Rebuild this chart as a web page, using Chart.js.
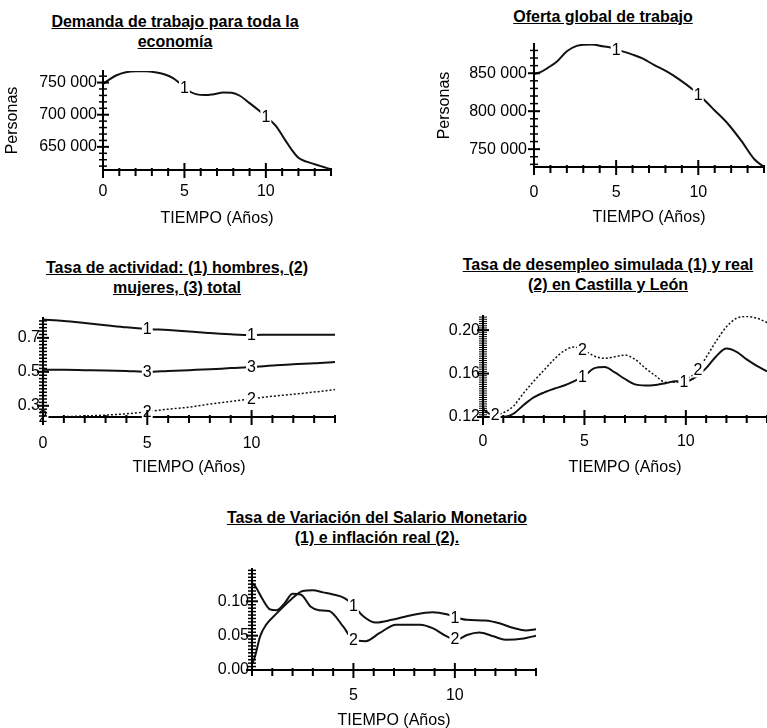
<!DOCTYPE html>
<html>
<head>
<meta charset="utf-8">
<script src="https://cdn.jsdelivr.net/npm/chart.js@4.4.1/dist/chart.umd.min.js"></script>
<style>
  html, body { margin: 0; padding: 0; background: #fff; }
  body { width: 767px; height: 728px; position: relative; overflow: hidden; font-family: "Liberation Sans", Arial, sans-serif; }
  canvas { position: absolute; }
  .title { position: absolute; width: 420px; text-align: center; font-weight: bold; font-size: 16px; line-height: 20px; text-decoration: underline; color: #000; }
</style>
</head>
<body>
<div class="title" style="left:-35px; top:12px">Demanda de trabajo para toda la<br>economía</div>
<div class="title" style="left:393px; top:7px">Oferta global de trabajo</div>
<div class="title" style="left:-33px; top:258px">Tasa de actividad: (1) hombres, (2)<br>mujeres, (3) total</div>
<div class="title" style="left:398px; top:255px">Tasa de desempleo simulada (1) y real<br>(2) en Castilla y León</div>
<div class="title" style="left:167px; top:508px">Tasa de Variación del Salario Monetario<br>(1) e inflación real (2).</div>

<canvas id="demanda" width="345" height="181" style="left:0px; top:51px"></canvas>
<canvas id="oferta" width="344" height="207" style="left:432px; top:24px"></canvas>
<canvas id="actividad" width="350" height="183" style="left:0px; top:298px"></canvas>
<canvas id="desempleo" width="340" height="185" style="left:430px; top:296px"></canvas>
<canvas id="salario" width="350" height="185" style="left:200px; top:549px"></canvas>

<script>
const demandaX = [0, 0.4, 0.8, 1.4, 2.0, 2.65, 3.2, 3.8, 4.3, 4.8, 5.2, 5.7, 6.3, 6.8, 7.4, 7.9, 8.4, 9.0, 9.6, 10.0, 10.6, 11.2, 11.6, 12.0, 12.5, 13.0, 13.5, 14.0];
const demanda = [748000, 755000, 761000, 766000, 767500, 767500, 766000, 762500, 757000, 747000, 738000, 732000, 730500, 732000, 734500, 734000, 729500, 718000, 706000, 697000, 683000, 660000, 645000, 633000, 627000, 623000, 619000, 615000];

const ofertaX = [0, 0.4, 0.8, 1.4, 2.0, 2.6, 3.0, 3.5, 4.2, 4.8, 5.3, 6.0, 6.6, 7.3, 8.1, 8.9, 9.7, 10.4, 11.0, 11.8, 12.6, 13.4, 14.0];
const oferta = [849000, 851500, 856500, 865500, 879000, 886000, 887500, 887800, 885500, 883000, 879500, 874500, 869500, 861000, 852000, 841000, 828000, 814000, 801000, 783500, 761500, 737000, 726500];

const actividadX = [0, 1, 2, 3, 4, 5, 6, 7, 8, 9, 10, 11, 12, 13, 14];
const hombres = [0.808, 0.800, 0.788, 0.775, 0.762, 0.752, 0.746, 0.738, 0.728, 0.721, 0.717, 0.719, 0.719, 0.719, 0.719];
const mujeres = [0.235, 0.236, 0.240, 0.245, 0.253, 0.265, 0.280, 0.292, 0.310, 0.325, 0.342, 0.356, 0.368, 0.381, 0.396];
const total = [0.512, 0.512, 0.510, 0.508, 0.505, 0.500, 0.505, 0.510, 0.515, 0.522, 0.528, 0.537, 0.545, 0.550, 0.558];

const desempleoX = [0, 0.5, 1.0, 1.5, 2.0, 2.5, 3.0, 3.5, 4.0, 4.5, 5.0, 5.5, 6.0, 6.5, 7.0, 7.5, 8.0, 8.5, 9.0, 9.5, 10.0, 10.5, 11.0, 11.5, 12.0, 12.5, 13.0, 13.5, 14.0];
const paroSimulado = [0.127, 0.121, 0.120, 0.123, 0.131, 0.138, 0.1425, 0.146, 0.149, 0.153, 0.158, 0.165, 0.166, 0.161, 0.155, 0.150, 0.149, 0.1495, 0.151, 0.153, 0.153, 0.157, 0.165, 0.176, 0.183, 0.180, 0.173, 0.167, 0.162];
const paroReal = [0.129, 0.1215, 0.124, 0.130, 0.142, 0.153, 0.163, 0.173, 0.181, 0.1845, 0.181, 0.176, 0.174, 0.1755, 0.177, 0.173, 0.165, 0.158, 0.152, 0.152, 0.155, 0.161, 0.175, 0.190, 0.203, 0.211, 0.2125, 0.211, 0.207];

const salarioX = [0, 0.15, 0.4, 0.7, 1.2, 1.9, 2.5, 3.0, 3.5, 4.0, 4.6, 5.0, 5.5, 6.1, 6.9, 7.9, 8.9, 9.6, 10.0, 10.6, 11.5, 12.2, 12.9, 13.5, 14.0];
const salario = [0.008, 0.02, 0.049, 0.066, 0.082, 0.102, 0.115, 0.116, 0.113, 0.110, 0.104, 0.094, 0.078, 0.069, 0.073, 0.080, 0.084, 0.081, 0.077, 0.073, 0.072, 0.068, 0.061, 0.0575, 0.0595];
const inflacionX = [0, 0.2, 0.5, 0.9, 1.2, 1.6, 2.0, 2.4, 2.9, 3.3, 3.8, 4.5, 5.0, 5.6, 6.3, 7.1, 8.3, 8.9, 9.6, 10.1, 10.6, 11.2, 11.9, 12.5, 13.4, 14.0];
const inflacion = [0.127, 0.12, 0.104, 0.088, 0.087, 0.097, 0.111, 0.11, 0.092, 0.087, 0.086, 0.063, 0.044, 0.042, 0.054, 0.066, 0.066, 0.061, 0.049, 0.044, 0.051, 0.0546, 0.049, 0.044, 0.046, 0.05];

// Etiquetas de los ejes
const xTicks = [0, 5, 10];
const xTicksSalario = [5, 10];
const demandaTicks = [650000, 700000, 750000];
const ofertaTicks = [750000, 800000, 850000];
const actividadTicks = [0.3, 0.5, 0.7];
const desempleoTicks = [0.12, 0.16, 0.20];
const salarioTicks = [0, 0.05, 0.10];

const TIEMPO = "TIEMPO (Años)";
const FONT = '"Liberation Sans", Arial, sans-serif';

function points(xs, ys) {
  return xs.map((x, i) => ({ x: x, y: ys[i] }));
}

function miles(v) {
  return String(v).replace(/\B(?=(\d{3})+(?!\d))/g, " ");
}

// Marcas de las escalas cruzando los ejes
const axisTicks = {
  id: "axisTicks",
  afterDraw(chart, args, opts) {
    const { ctx, chartArea: a, scales } = chart;
    const x = scales.x, y = scales.y;
    const xMajor = x.ticks.map((t) => t.value);
    const yMajor = y.ticks.map((t) => t.value);
    const isMajor = (list, v, step) => list.some((m) => Math.abs(m - v) < step / 10);
    ctx.save();
    ctx.strokeStyle = "#000";
    for (let v = 0; v <= x.max + 1e-9; v += opts.xStep) {
      const px = x.getPixelForValue(v);
      const big = isMajor(xMajor, v, opts.xStep);
      ctx.lineWidth = 2;
      ctx.beginPath();
      ctx.moveTo(px, a.bottom - (big ? 7 : 2));
      ctx.lineTo(px, a.bottom + (big ? 8 : 6));
      ctx.stroke();
    }
    const start = Math.ceil(y.min / opts.yStep - 1e-6);
    for (let k = start; k * opts.yStep <= y.max + 1e-9; k++) {
      const v = k * opts.yStep;
      const py = y.getPixelForValue(v);
      const big = isMajor(yMajor, v, opts.yStep);
      ctx.lineWidth = big ? 2 : opts.yWidth;
      ctx.beginPath();
      ctx.moveTo(a.left - (big ? 6 : 4), py);
      ctx.lineTo(a.left + (big ? 6 : 4), py);
      ctx.stroke();
    }
    ctx.restore();
  },
};

// Números 1, 2, 3 sobre cada curva
const lineTags = {
  id: "lineTags",
  afterDatasetsDraw(chart) {
    const { ctx, scales } = chart;
    ctx.save();
    ctx.font = "16px " + FONT;
    ctx.textAlign = "center";
    ctx.textBaseline = "middle";
    chart.data.datasets.forEach((ds) => {
      (ds.tagsAt || []).forEach((tx) => {
        const d = ds.data;
        let j = 0;
        while (j < d.length - 2 && d[j + 1].x < tx) j++;
        const f = (tx - d[j].x) / (d[j + 1].x - d[j].x);
        const val = d[j].y + f * (d[j + 1].y - d[j].y);
        const px = scales.x.getPixelForValue(tx);
        const py = scales.y.getPixelForValue(val);
        const w = ctx.measureText(ds.tag).width;
        ctx.fillStyle = "#fff";
        ctx.fillRect(px - w / 2 - 1, py - 8, w + 2, 16);
        ctx.fillStyle = "#000";
        ctx.fillText(ds.tag, px, py + 1);
      });
    });
    ctx.restore();
  },
};

function makeChart(id, p) {
  const datasets = p.series.map((s) => ({
    data: points(s.x, s.y),
    borderColor: "#111",
    borderWidth: s.dotted ? 1.5 : 2,
    borderDash: s.dotted ? [2, 2] : [],
    pointRadius: 0,
    cubicInterpolationMode: "monotone",
    fill: false,
    tag: s.tag,
    tagsAt: s.tagsAt,
  }));

  return new Chart(document.getElementById(id), {
    type: "line",
    data: { datasets: datasets },
    options: {
      responsive: false,
      animation: false,
      events: [],
      layout: { padding: { top: 20, right: p.padRight, left: 0, bottom: 0 } },
      plugins: {
        legend: { display: false },
        tooltip: { enabled: false },
        axisTicks: { xStep: 1, yStep: p.yStep, yWidth: p.yTickWidth || 1.5 },
      },
      scales: {
        x: {
          type: "linear",
          min: 0,
          max: 14,
          grid: { display: false, drawTicks: false },
          border: { color: "#000", width: 2 },
          ticks: { color: "#000", font: { family: FONT, size: 16 }, padding: p.xPad, maxRotation: 0 },
          afterBuildTicks: (s) => { s.ticks = p.xTicks.map((v) => ({ value: v })); },
          afterFit: (s) => { s.height = p.xH; },
          title: { display: true, text: TIEMPO, color: "#000", font: { family: FONT, size: 16 }, padding: { top: 3, bottom: 4 } },
        },
        y: {
          type: "linear",
          min: p.yMin,
          max: p.yMax,
          grid: { display: false, drawTicks: false },
          border: { color: "#000", width: 2 },
          ticks: { color: "#000", font: { family: FONT, size: 16 }, padding: p.yPad, callback: p.fmt },
          afterBuildTicks: (s) => { s.ticks = p.yTicks.map((v) => ({ value: v })); },
          afterFit: (s) => { s.width = p.yW; },
          title: { display: !!p.yTitle, text: p.yTitle || "", color: "#000", font: { family: FONT, size: 16 }, padding: { top: 3, bottom: 4 } },
        },
      },
    },
    plugins: [axisTicks, lineTags],
  });
}

makeChart("demanda", {
  series: [{ x: demandaX, y: demanda, tag: "1", tagsAt: [5, 10] }],
  xTicks: xTicks, yTicks: demandaTicks, yMin: 614000, yMax: 768000, yStep: 10000,
  fmt: miles, yTitle: "Personas", yW: 103, xH: 62, padRight: 14, xPad: 12, yPad: 6,
});

makeChart("oferta", {
  series: [{ x: ofertaX, y: oferta, tag: "1", tagsAt: [5, 10] }],
  xTicks: xTicks, yTicks: ofertaTicks, yMin: 726500, yMax: 888500, yStep: 10000,
  fmt: miles, yTitle: "Personas", yW: 102, xH: 64, padRight: 12, xPad: 16, yPad: 7,
});

makeChart("actividad", {
  series: [
    { x: actividadX, y: hombres, tag: "1", tagsAt: [5, 10] },
    { x: actividadX, y: mujeres, tag: "2", tagsAt: [0, 5, 10], dotted: true },
    { x: actividadX, y: total, tag: "3", tagsAt: [5, 10] },
  ],
  xTicks: xTicks, yTicks: actividadTicks, yMin: 0.234, yMax: 0.817, yStep: 0.02,
  fmt: (v) => v.toFixed(1), yW: 43, xH: 64, padRight: 15, xPad: 17, yPad: 3,
});

makeChart("desempleo", {
  series: [
    { x: desempleoX, y: paroSimulado, tag: "1", tagsAt: [4.9, 9.9] },
    { x: desempleoX, y: paroReal, tag: "2", tagsAt: [0.6, 4.9, 10.6], dotted: true },
  ],
  xTicks: xTicks, yTicks: desempleoTicks, yMin: 0.12, yMax: 0.213, yStep: 0.002, yTickWidth: 1,
  fmt: (v) => v.toFixed(2), yW: 53, xH: 64, padRight: 3, xPad: 15, yPad: 3,
});

makeChart("salario", {
  series: [
    { x: salarioX, y: salario, tag: "1", tagsAt: [5, 10] },
    { x: inflacionX, y: inflacion, tag: "2", tagsAt: [5, 10] },
  ],
  xTicks: xTicksSalario, yTicks: salarioTicks, yMin: 0, yMax: 0.147, yStep: 0.005,
  fmt: (v) => v.toFixed(2), yW: 52, xH: 64, padRight: 14, xPad: 16, yPad: 3,
});
</script>
</body>
</html>
